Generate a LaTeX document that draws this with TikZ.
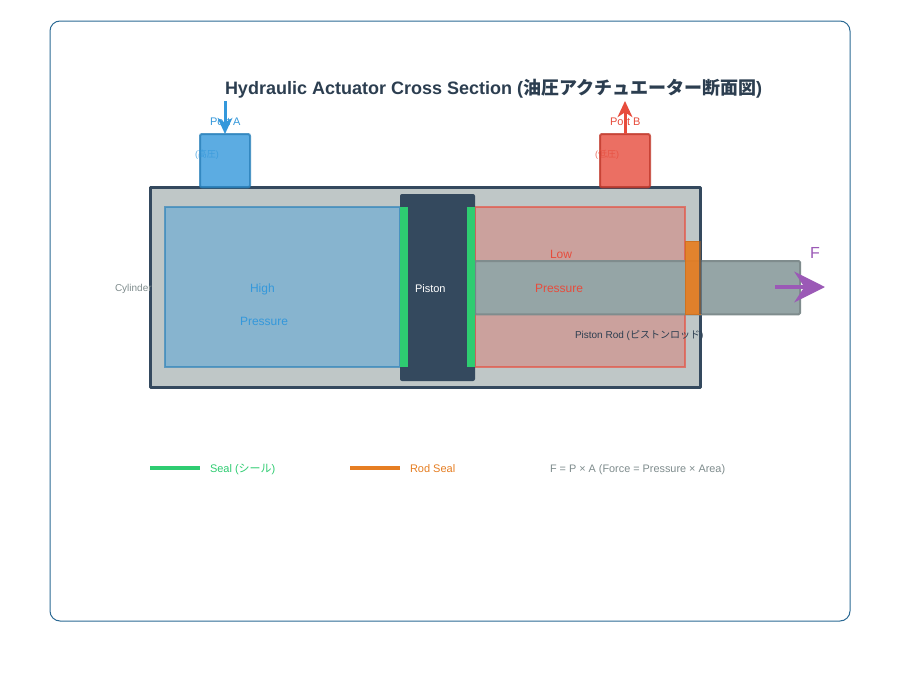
\documentclass[tikz,border=0pt]{standalone}
\usepackage{fontspec}
\setmainfont{Liberation Sans}
\newfontfamily\cjk{Noto Sans CJK JP}
\usepackage{xcolor}
\usetikzlibrary{arrows.meta,positioning}
\definecolor{cframe}{HTML}{2C6A94}
\definecolor{cdark}{HTML}{34495E}
\definecolor{ctitle}{HTML}{2C3E50}
\definecolor{cbody}{HTML}{BFC7C7}
\definecolor{cblue}{HTML}{3498DB}
\definecolor{cblueline}{HTML}{2980B9}
\definecolor{cred}{HTML}{E74C3C}
\definecolor{credline}{HTML}{C0392B}
\definecolor{cgreen}{HTML}{2ECC71}
\definecolor{corange}{HTML}{E67E22}
\definecolor{cgray}{HTML}{7F8C8D}
\definecolor{crod}{HTML}{95A5A6}
\definecolor{cpurple}{HTML}{9B59B6}

\begin{document}
\begin{tikzpicture}[
  x=0.75pt, y=-0.75pt,
  part/.style={rectangle, anchor=north west, inner sep=0pt, outer sep=0pt},
  label/.style={anchor=base west, inner sep=0pt, outer sep=0pt, font=\fontsize{8.25pt}{10pt}\selectfont},
  smalllabel/.style={label, font=\fontsize{7.5pt}{9pt}\selectfont},
  portarrow/.style={-{Stealth[length=12pt, width=11pt, inset=3.5pt]}, line width=2.25pt},
  legendline/.style={line width=3pt}
]

\useasboundingbox (0,0) rectangle (900,700);
\fill[white] (0,0) rectangle (900,700);

\node[part, draw=cframe, line width=0.75pt, fill=white, rounded corners=7.5pt, minimum width=600pt, minimum height=450pt] (frame) at (50,21) {};

\node[label, font=\fontsize{13.5pt}{16pt}\selectfont\bfseries, text=ctitle] (title) at (225,94) {Hydraulic Actuator Cross Section ({\cjk 油圧アクチュエーター断面図})};

% cylinder body
\node[part, fill=cbody, minimum width=412.5pt, minimum height=150pt] (cylinder) at (150,187) {};
\draw[cdark, line width=2.25pt, line join=round] (cylinder.north west) -- (cylinder.north east) -- (cylinder.south east) -- (cylinder.south west) -- cycle;

% ports
\node[part, draw=cblueline, line width=1.5pt, fill=cblue, opacity=0.8, rounded corners=1.5pt, minimum width=37.5pt, minimum height=40pt] (porta) at (200,134) {};
\node[part, draw=credline, line width=1.5pt, fill=cred, opacity=0.8, rounded corners=1.5pt, minimum width=37.5pt, minimum height=40pt] (portb) at (600,134) {};

% chambers
\node[part, draw=cblueline, draw opacity=0.65, line width=0.9pt, fill=cblue, fill opacity=0.4, minimum width=176.25pt, minimum height=120pt] (high) at (165,207) {};
\node[part, draw=cred, draw opacity=0.65, line width=0.9pt, fill=cred, fill opacity=0.3, minimum width=157.5pt, minimum height=120pt] (low) at (475,207) {};

% rod and rod seal
\node[part, draw=cgray, line width=1.5pt, fill=crod, rounded corners=1pt, minimum width=243.75pt, minimum height=40pt] (rod) at (475,261) {};
\node[part, draw=corange!90!black, line width=0.5pt, fill=corange, opacity=0.93, minimum width=11.25pt, minimum height=55pt] (rodseal) at (685,241) {};
\draw[cdark, line width=2.25pt, opacity=0.55] (cylinder.east |- rodseal.north) -- (cylinder.east |- rodseal.south);

% piston
\node[part, fill=cdark, rounded corners=1.5pt, minimum width=56.25pt, minimum height=140.25pt] (piston) at (400,194) {};
\node[part, fill=cgreen, minimum width=6pt, minimum height=120pt] (sealleft) at (400,207) {};
\node[part, fill=cgreen, minimum width=6pt, minimum height=120pt] (sealright) at (467,207) {};

% arrows
\coordinate (ainlet) at (225,101);
\coordinate (boutlet) at (625,101);
\coordinate (fstart) at (775,287);
\coordinate (fend) at (825,287);
\draw[portarrow, cblue] (ainlet) -- (porta.north);
\draw[portarrow, cred] (portb.north) -- (boutlet);
\draw[cpurple, line width=3pt, -{Stealth[length=23pt, width=23pt, inset=7.5pt]}] (fstart) -- (fend);

% labels
\node[label, text=cblue] (porttext) at (210,125) {Port A};
\node[label, text=cblue, font=\fontsize{6.75pt}{8pt}\selectfont, opacity=0.8] (hightext) at (195,157) {({\cjk 高圧})};
\node[label, text=cred] (portbtext) at (610,125) {Port B};
\node[label, text=cred, font=\fontsize{6.75pt}{8pt}\selectfont, opacity=0.8] (lowtext) at (595,157) {({\cjk 低圧})};
\node[smalllabel, text=cgray] (cyltext) at (115,291) {Cylinder};
\node[label, text=cblue, font=\fontsize{9pt}{11pt}\selectfont] (high1) at (250,292) {High};
\node[label, text=cblue, font=\fontsize{9pt}{11pt}\selectfont] (high2) at (240,325) {Pressure};
\node[label, text=white] (pistontext) at (415,292) {Piston};
\node[label, text=cred, font=\fontsize{9pt}{11pt}\selectfont] (low1) at (550,258) {Low};
\node[label, text=cred, font=\fontsize{9pt}{11pt}\selectfont] (low2) at (535,292) {Pressure};
\node[smalllabel, text=ctitle] (rodtext) at (575,338) {Piston Rod ({\cjk ピストンロッド})};
\node[label, text=cpurple, font=\fontsize{12pt}{14pt}\selectfont] (ftext) at (810,258) {F};

% legend
\coordinate (seala) at (150,467.5);
\coordinate (sealb) at (200,467.5);
\coordinate (roda) at (350,467.5);
\coordinate (rodb) at (400,467.5);
\draw[legendline, cgreen] (seala) -- (sealb);
\draw[legendline, corange] (roda) -- (rodb);
\node[label, text=cgreen] (sealtext) at (210,472) {Seal ({\cjk シール})};
\node[label, text=corange] (rodsealtext) at (410,472) {Rod Seal};
\node[label, text=cgray, font=\fontsize{8.15pt}{10pt}\selectfont] (formula) at (550,472) {F = P × A (Force = Pressure × Area)};

\end{tikzpicture}
\end{document}
